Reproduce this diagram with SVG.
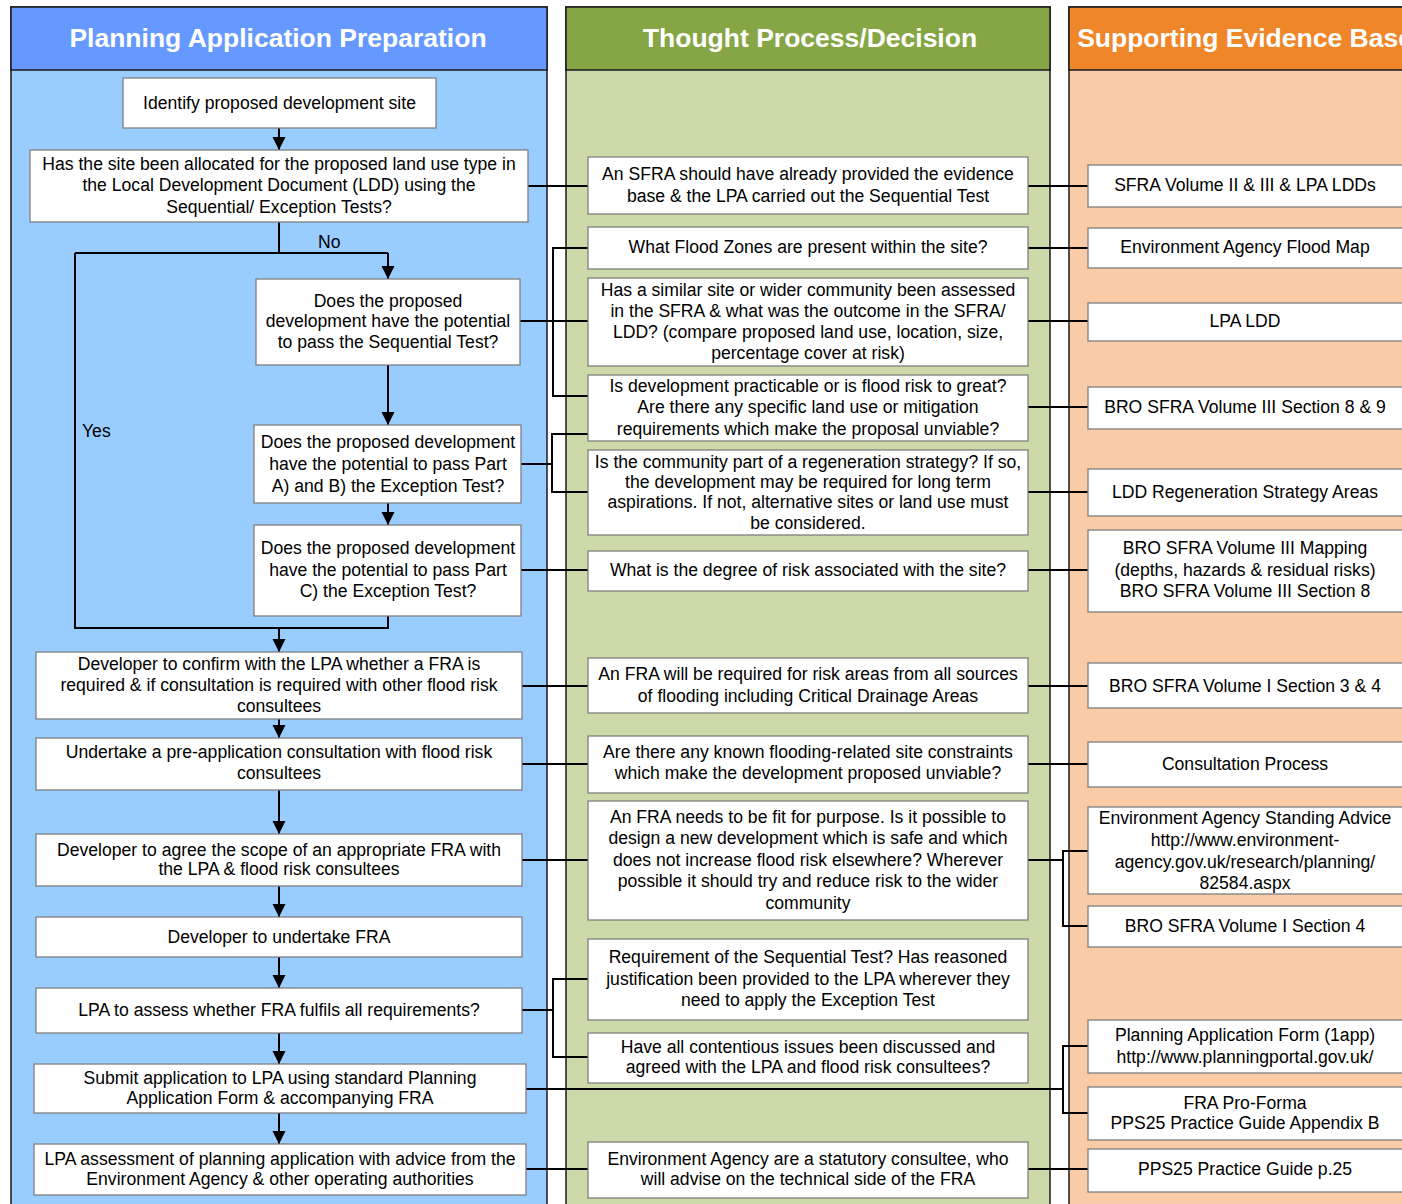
<svg xmlns="http://www.w3.org/2000/svg" width="1402" height="1204" viewBox="0 0 1402 1204">
<defs>
<marker id="ah" markerUnits="userSpaceOnUse" markerWidth="14" markerHeight="14" refX="13" refY="6.5" orient="auto"><path d="M0,0 L13,6.5 L0,13 z" fill="#000"/></marker>
<style>
.col{stroke:#1a1a1a;stroke-width:1.5}
.hd{font-family:"Liberation Sans",Arial,sans-serif;font-weight:bold;font-size:26.5px;fill:#fff;text-anchor:middle}
.bx{fill:#fff;stroke:#7f7f7f;stroke-width:1.3}
.t{font-family:"Liberation Sans",Arial,sans-serif;font-size:17.6px;fill:#000;text-anchor:middle}
.lbl{font-family:"Liberation Sans",Arial,sans-serif;font-size:17.6px;fill:#000}
.c{fill:none;stroke:#000;stroke-width:2}
.a{fill:none;stroke:#000;stroke-width:2;marker-end:url(#ah)}
</style>
</defs>
<rect width="1402" height="1204" fill="#fff"/>
<g id="lanes">
<rect class="col" x="11" y="7" width="536" height="1210" fill="#99CCFF"/>
<rect class="col" x="11" y="7" width="536" height="63" fill="#6699FF"/>
<text class="hd" x="278" y="47">Planning Application Preparation</text>
<rect class="col" x="566" y="7" width="484" height="1210" fill="#CCDAA9"/>
<rect class="col" x="566" y="7" width="484" height="63" fill="#86A646"/>
<text class="hd" x="810" y="47">Thought Process/Decision</text>
<rect class="col" x="1069" y="7" width="360" height="1210" fill="#F9CBA6"/>
<rect class="col" x="1069" y="7" width="360" height="63" fill="#F0862A"/>
<text class="hd" x="1245" y="47">Supporting Evidence Base</text>
</g>
<g id="connectors">
<line class="a" x1="279" y1="128" x2="279" y2="150"/>
<path class="c" d="M279,222 V253"/>
<path class="c" d="M75,253 H388"/>
<line class="a" x1="388" y1="253" x2="388" y2="279"/>
<path class="c" d="M75,253 V628 H388 V616"/>
<line class="a" x1="279" y1="628" x2="279" y2="652"/>
<line class="a" x1="388" y1="365" x2="388" y2="425"/>
<line class="a" x1="388" y1="503" x2="388" y2="525"/>
<line class="a" x1="279" y1="719" x2="279" y2="738"/>
<line class="a" x1="279" y1="790" x2="279" y2="834"/>
<line class="a" x1="279" y1="886" x2="279" y2="917"/>
<line class="a" x1="279" y1="957" x2="279" y2="988"/>
<line class="a" x1="279" y1="1033" x2="279" y2="1064"/>
<line class="a" x1="279" y1="1113" x2="279" y2="1144"/>
<path class="c" d="M528,186 H588 M1028,186 H1088"/>
<path class="c" d="M588,248 H553 V396 H588 M1028,248 H1088"/>
<path class="c" d="M520,321 H588 M1028,321 H1088"/>
<path class="c" d="M1028,407 H1088"/>
<path class="c" d="M588,434 H552 V492 H588 M521,464 H552 M1028,492 H1088"/>
<path class="c" d="M521,570 H588 M1028,570 H1088"/>
<path class="c" d="M522,686 H588 M1028,686 H1088"/>
<path class="c" d="M522,764 H588 M1028,764 H1088"/>
<path class="c" d="M522,860 H588 M1028,860 H1063 M1088,851 H1063 V926 H1088"/>
<path class="c" d="M522,1010 H553 M588,979 H553 V1057 H588"/>
<path class="c" d="M526,1089 H1063 M1088,1046 H1063 V1113 H1088"/>
<path class="c" d="M526,1169 H588 M1028,1169 H1088"/>
<text class="lbl" x="318" y="248">No</text>
<text class="lbl" x="82" y="437">Yes</text>
</g>
<g id="p1"><rect class="bx" x="123" y="78" width="313" height="50"/><text class="t" x="279.5" y="109">Identify proposed development site</text></g>
<g id="p2"><rect class="bx" x="30" y="150" width="498" height="72"/><text class="t" x="279" y="170">Has the site been allocated for the proposed land use type in</text><text class="t" x="279" y="191">the Local Development Document (LDD) using the</text><text class="t" x="279" y="213">Sequential/ Exception Tests?</text></g>
<g id="p3"><rect class="bx" x="256" y="279" width="264" height="86"/><text class="t" x="388" y="307">Does the proposed</text><text class="t" x="388" y="327">development have the potential</text><text class="t" x="388" y="348">to pass the Sequential Test?</text></g>
<g id="p4"><rect class="bx" x="254" y="425" width="267" height="78"/><text class="t" x="388" y="448">Does the proposed development</text><text class="t" x="388" y="470">have the potential to pass Part</text><text class="t" x="388" y="492">A) and B) the Exception Test?</text></g>
<g id="p5"><rect class="bx" x="254" y="525" width="267" height="91"/><text class="t" x="388" y="554">Does the proposed development</text><text class="t" x="388" y="576">have the potential to pass Part</text><text class="t" x="388" y="597">C) the Exception Test?</text></g>
<g id="p6"><rect class="bx" x="36" y="652" width="486" height="67"/><text class="t" x="279" y="670">Developer to confirm with the LPA whether a FRA is</text><text class="t" x="279" y="691">required &amp; if consultation is required with other flood risk</text><text class="t" x="279" y="712">consultees</text></g>
<g id="p7"><rect class="bx" x="36" y="738" width="486" height="52"/><text class="t" x="279" y="758">Undertake a pre-application consultation with flood risk</text><text class="t" x="279" y="779">consultees</text></g>
<g id="p8"><rect class="bx" x="36" y="834" width="486" height="52"/><text class="t" x="279" y="856">Developer to agree the scope of an appropriate FRA with</text><text class="t" x="279" y="875">the LPA &amp; flood risk consultees</text></g>
<g id="p9"><rect class="bx" x="36" y="917" width="486" height="40"/><text class="t" x="279" y="943">Developer to undertake FRA</text></g>
<g id="p10"><rect class="bx" x="36" y="988" width="486" height="45"/><text class="t" x="279" y="1016">LPA to assess whether FRA fulfils all requirements?</text></g>
<g id="p11"><rect class="bx" x="34" y="1064" width="492" height="49"/><text class="t" x="280" y="1084">Submit application to LPA using standard Planning</text><text class="t" x="280" y="1104">Application Form &amp; accompanying FRA</text></g>
<g id="p12"><rect class="bx" x="34" y="1144" width="492" height="51"/><text class="t" x="280" y="1165">LPA assessment of planning application with advice from the</text><text class="t" x="280" y="1185">Environment Agency &amp; other operating authorities</text></g>
<g id="m1"><rect class="bx" x="588" y="157" width="440" height="57"/><text class="t" x="808" y="180">An SFRA should have already provided the evidence</text><text class="t" x="808" y="202">base &amp; the LPA carried out the Sequential Test</text></g>
<g id="m2"><rect class="bx" x="588" y="227" width="440" height="42"/><text class="t" x="808" y="253">What Flood Zones are present within the site?</text></g>
<g id="m3"><rect class="bx" x="588" y="278" width="440" height="88"/><text class="t" x="808" y="296">Has a similar site or wider community been assessed</text><text class="t" x="808" y="317">in the SFRA &amp; what was the outcome in the SFRA/</text><text class="t" x="808" y="338">LDD? (compare proposed land use, location, size,</text><text class="t" x="808" y="359">percentage cover at risk)</text></g>
<g id="m4"><rect class="bx" x="588" y="375" width="440" height="66"/><text class="t" x="808" y="392">Is development practicable or is flood risk to great?</text><text class="t" x="808" y="413">Are there any specific land use or mitigation</text><text class="t" x="808" y="435">requirements which make the proposal unviable?</text></g>
<g id="m5"><rect class="bx" x="588" y="450" width="440" height="85"/><text class="t" x="808" y="468">Is the community part of a regeneration strategy? If so,</text><text class="t" x="808" y="488">the development may be required for long term</text><text class="t" x="808" y="508">aspirations.  If not, alternative sites or land use must</text><text class="t" x="808" y="529">be considered.</text></g>
<g id="m6"><rect class="bx" x="588" y="551" width="440" height="40"/><text class="t" x="808" y="576">What is the degree of risk associated with the site?</text></g>
<g id="m7"><rect class="bx" x="588" y="658" width="440" height="55"/><text class="t" x="808" y="680">An FRA will be required for risk areas from all sources</text><text class="t" x="808" y="702">of flooding including Critical Drainage Areas</text></g>
<g id="m8"><rect class="bx" x="588" y="736" width="440" height="57"/><text class="t" x="808" y="758">Are there any known flooding-related site constraints</text><text class="t" x="808" y="779">which make the development proposed unviable?</text></g>
<g id="m9"><rect class="bx" x="588" y="801" width="440" height="119"/><text class="t" x="808" y="823">An FRA needs to be fit for purpose.  Is it possible to</text><text class="t" x="808" y="844">design a new development which is safe and which</text><text class="t" x="808" y="866">does not increase flood risk elsewhere? Wherever</text><text class="t" x="808" y="887">possible it should try and reduce risk to the wider</text><text class="t" x="808" y="909">community</text></g>
<g id="m10"><rect class="bx" x="588" y="939" width="440" height="81"/><text class="t" x="808" y="963">Requirement of the Sequential Test? Has reasoned</text><text class="t" x="808" y="985">justification been provided to the LPA wherever they</text><text class="t" x="808" y="1006">need to apply the Exception Test</text></g>
<g id="m11"><rect class="bx" x="588" y="1033" width="440" height="50"/><text class="t" x="808" y="1053">Have all contentious issues been discussed and</text><text class="t" x="808" y="1073">agreed with the LPA and flood risk consultees?</text></g>
<g id="m12"><rect class="bx" x="588" y="1142" width="440" height="56"/><text class="t" x="808" y="1165">Environment Agency are a statutory consultee, who</text><text class="t" x="808" y="1185">will advise on the technical side of the FRA</text></g>
<g id="r1"><rect class="bx" x="1088" y="165" width="320" height="42"/><text class="t" x="1245" y="191">SFRA Volume II &amp; III &amp; LPA LDDs</text></g>
<g id="r2"><rect class="bx" x="1088" y="228" width="320" height="40"/><text class="t" x="1245" y="253">Environment Agency Flood Map</text></g>
<g id="r3"><rect class="bx" x="1088" y="303" width="320" height="38"/><text class="t" x="1245" y="327">LPA LDD</text></g>
<g id="r4"><rect class="bx" x="1088" y="387" width="320" height="42"/><text class="t" x="1245" y="413">BRO SFRA Volume III Section 8 &amp; 9</text></g>
<g id="r5"><rect class="bx" x="1088" y="469" width="320" height="47"/><text class="t" x="1245" y="498">LDD Regeneration Strategy Areas</text></g>
<g id="r6"><rect class="bx" x="1088" y="530" width="320" height="82"/><text class="t" x="1245" y="554">BRO SFRA Volume III Mapping</text><text class="t" x="1245" y="576">(depths, hazards &amp; residual risks)</text><text class="t" x="1245" y="597">BRO SFRA Volume III Section 8</text></g>
<g id="r7"><rect class="bx" x="1088" y="663" width="320" height="45"/><text class="t" x="1245" y="692">BRO SFRA Volume I Section 3 &amp; 4</text></g>
<g id="r8"><rect class="bx" x="1088" y="742" width="320" height="45"/><text class="t" x="1245" y="770">Consultation Process</text></g>
<g id="r9"><rect class="bx" x="1088" y="807" width="320" height="87"/><text class="t" x="1245" y="824">Environment Agency Standing Advice</text><text class="t" x="1245" y="846">http://www.environment-</text><text class="t" x="1245" y="868">agency.gov.uk/research/planning/</text><text class="t" x="1245" y="889">82584.aspx</text></g>
<g id="r10"><rect class="bx" x="1088" y="906" width="320" height="41"/><text class="t" x="1245" y="932">BRO SFRA Volume I Section 4</text></g>
<g id="r11"><rect class="bx" x="1088" y="1020" width="320" height="53"/><text class="t" x="1245" y="1041">Planning Application Form (1app)</text><text class="t" x="1245" y="1063">http://www.planningportal.gov.uk/</text></g>
<g id="r12"><rect class="bx" x="1088" y="1087" width="320" height="53"/><text class="t" x="1245" y="1109">FRA Pro-Forma</text><text class="t" x="1245" y="1129">PPS25 Practice Guide Appendix B</text></g>
<g id="r13"><rect class="bx" x="1088" y="1149" width="320" height="43"/><text class="t" x="1245" y="1175">PPS25 Practice Guide p.25</text></g>
</svg>
